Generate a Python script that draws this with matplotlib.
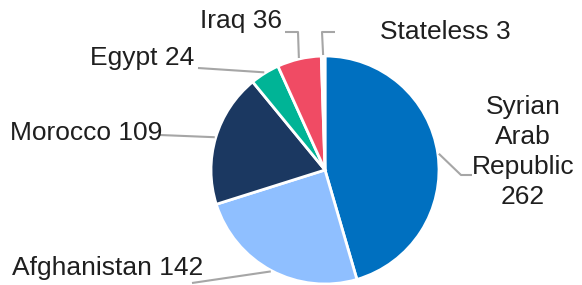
import matplotlib.pyplot as plt
import numpy as np

plt.rcParams['font.family'] = ['Liberation Sans', 'DejaVu Sans']

labels = ['Syrian\nArab\nRepublic\n262', 'Afghanistan 142', 'Morocco 109',
          'Egypt 24', 'Iraq 36', 'Stateless 3']
values = [262, 142, 109, 24, 36, 3]
colors = ['#0070c0', '#8fbfff', '#1b3861', '#00b496', '#f04b64', '#ffffff']

W, H = 582, 285
fig = plt.figure(figsize=(W / 100, H / 100), dpi=100)
ax = fig.add_axes([0, 0, 1, 1])

cx, cy, r = 325, H - 170, 114
wedges, _ = ax.pie(values, colors=colors, startangle=90, counterclock=False,
                   center=(cx, cy), radius=r,
                   wedgeprops=dict(edgecolor='white', linewidth=2))
ax.set_xlim(0, W)
ax.set_ylim(0, H)
ax.set_aspect('equal')
ax.axis('off')

# label layout in pixel coords (y from top): text anchor, elbow points of leader
layout = [
    dict(xy=(523, 152), ha='center', path=[(461, 175), (472, 175)]),
    dict(xy=(12, 268), ha='left', path=[(192, 283)]),
    dict(xy=(10, 133), ha='left', path=[(160, 135)]),
    dict(xy=(90, 58), ha='left', path=[(198, 68)]),
    dict(xy=(200, 21), ha='left', path=[(298, 32), (285, 32)]),
    dict(xy=(380, 32), ha='left', path=[(322, 32), (335, 32)]),
]

for w, lab, lo in zip(wedges, labels, layout):
    mid = np.deg2rad((w.theta1 + w.theta2) / 2)
    sx = cx + (r + 1) * np.cos(mid)
    sy = cy + (r + 1) * np.sin(mid)
    xs = [sx] + [p[0] for p in lo['path']]
    ys = [sy] + [H - p[1] for p in lo['path']]
    ax.plot(xs, ys, color='#a6a6a6', lw=1.5, solid_capstyle='butt')
    ax.text(lo['xy'][0], H - lo['xy'][1], lab, ha=lo['ha'], va='center',
            fontsize=19, color='#1f1f1f', linespacing=1.32)

fig.savefig('out.png', dpi=100)
